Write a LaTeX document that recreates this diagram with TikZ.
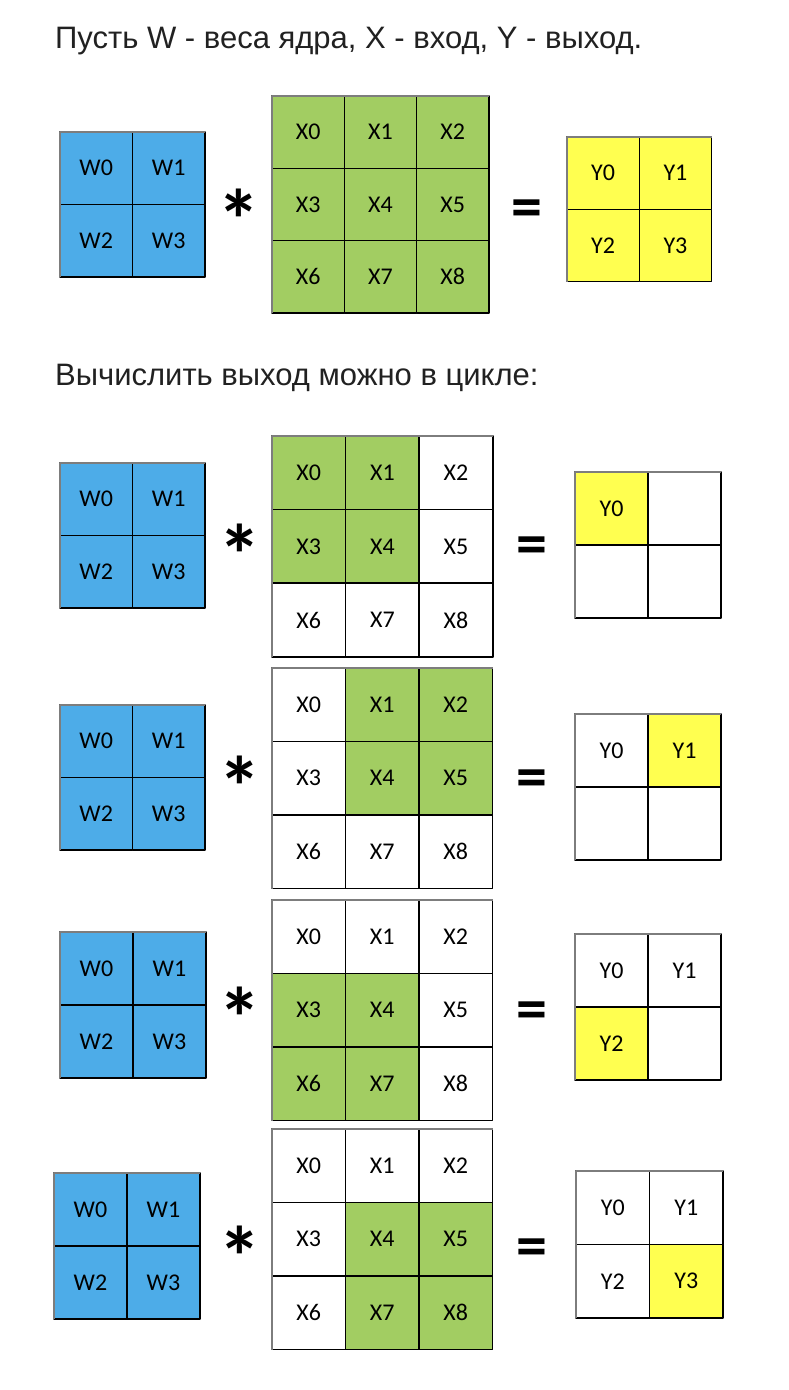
\documentclass[tikz,border=0pt]{standalone}
\usepackage{fontspec}
\setmainfont{Liberation Sans}
\newfontfamily\cellfont{Carlito}
\definecolor{wblue}{RGB}{77,172,232}
\definecolor{xgreen}{RGB}{162,205,98}
\definecolor{yyellow}{RGB}{255,255,80}
\definecolor{edgegray}{RGB}{125,125,125}
\begin{document}
\begin{tikzpicture}[x=1pt,y=-1pt,line join=round,
    cell/.style={draw=black,line width=1.6pt,inner sep=0pt,outer sep=0pt,anchor=north west,
      font=\cellfont\fontsize{24}{24}\selectfont},
    rim/.style={draw=edgegray,line width=1.6pt},
    sign/.style={inner sep=0pt,font=\cellfont\bfseries\fontsize{#1}{#1}\selectfont},
    title/.style={anchor=base west,inner sep=0pt,text=black!87,font=\fontsize{31}{36}\selectfont}]
\useasboundingbox (0,0) rectangle (788,1390);
\node[title] (head) at (55,48) {Пусть W - веса ядра, X - вход, Y - выход.};
\node[title] (loop) at (55,385) {Вычислить выход можно в цикле:};
% r / W corner,size / star / X corner,size / eq / Y corner,size / green block row,col,n / Y step
\foreach \r/\wx/\wy/\ws/\sx/\sy/\xx/\xy/\xs/\ex/\ey/\yx/\yy/\ys/\gr/\gc/\n/\k in {
    0/60/132/72.5/239/205/272/96/72.3/527/208/567/137/72.3/0/0/3/3,
    1/60/463/72.5/240/540/272/436/73.6/532/545/575/472/73/0/0/2/0,
    2/60/705/72.5/240/772/272/668/73.5/532/778/575/714/73/0/1/2/1,
    3/60/932/73/240/1003/272/900/73.5/532/1010/575/934/73/1/0/2/2,
    4/54/1173/73/240/1242/272/1129/73.5/532/1247/576/1171/73.5/1/1/2/3}{
  % kernel
  \foreach \i in {0,...,3}{
    \pgfmathtruncatemacro\row{floor(\i/2)}
    \pgfmathtruncatemacro\col{mod(\i,2)}
    \node[cell,fill=wblue,minimum size=\ws] (w-\r-\i) at (\wx+\col*\ws,\wy+\row*\ws) {W\i};
  }
  \draw[rim] (w-\r-2.south west) -- (w-\r-0.north west) -- (w-\r-1.north east);
  \node[sign=86,yshift=-15pt] (star-\r) at (\sx,\sy) {*};
  % input
  \foreach \i in {0,...,8}{
    \pgfmathtruncatemacro\row{floor(\i/3)}
    \pgfmathtruncatemacro\col{mod(\i,3)}
    \pgfmathtruncatemacro\ing{and(and(\row>=\gr,\row<\gr+\n),and(\col>=\gc,\col<\gc+\n))}
    \ifnum\ing=1 \def\fc{xgreen}\else\def\fc{white}\fi
    \node[cell,fill=\fc,minimum size=\xs] (x-\r-\i) at (\xx+\col*\xs,\xy+\row*\xs) {X\i};
  }
  \draw[rim] (x-\r-6.south west) -- (x-\r-0.north west) -- (x-\r-2.north east);
  \node[sign=62,yshift=-6pt] (eq-\r) at (\ex,\ey) {=};
  % output
  \foreach \i in {0,...,3}{
    \pgfmathtruncatemacro\row{floor(\i/2)}
    \pgfmathtruncatemacro\col{mod(\i,2)}
    \pgfmathtruncatemacro\hit{or(\i==\k,\r==0)}
    \ifnum\hit=1 \def\fc{yyellow}\else\def\fc{white}\fi
    \ifnum\i>\k \def\lbl{}\else\def\lbl{Y\i}\fi
    \node[cell,fill=\fc,minimum size=\ys] (y-\r-\i) at (\yx+\col*\ys,\yy+\row*\ys) {\lbl};
  }
  \draw[rim] (y-\r-2.south west) -- (y-\r-0.north west) -- (y-\r-1.north east);
}
\end{tikzpicture}
\end{document}
